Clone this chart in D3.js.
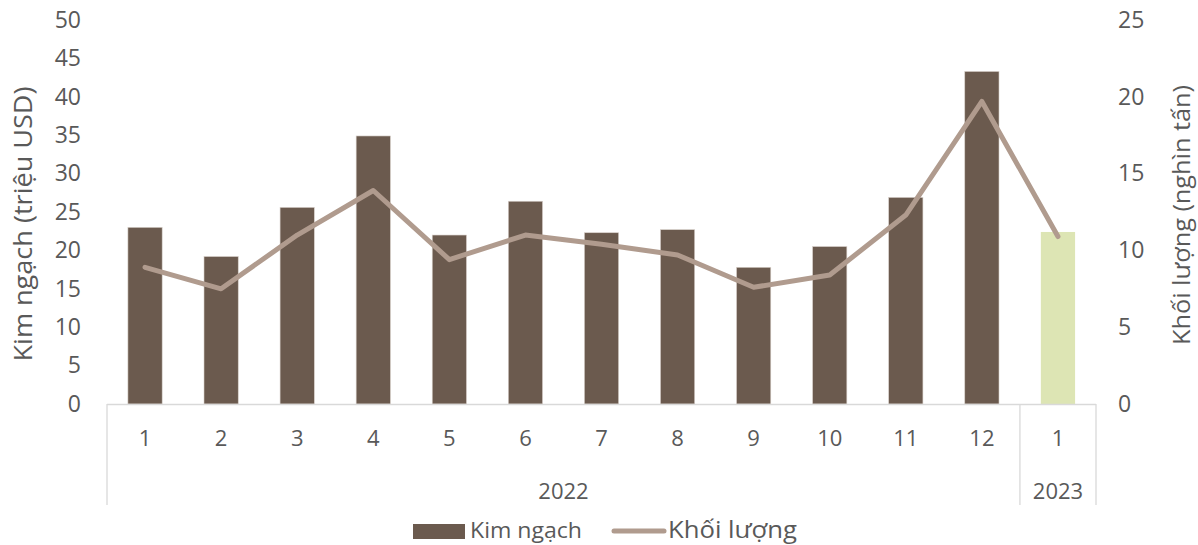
<!DOCTYPE html>
<html><head><meta charset="utf-8">
<script src="https://cdn.jsdelivr.net/npm/d3@7"></script>
<style>body{margin:0;background:#fff}svg{display:block}text{font-family:"Open Sans",sans-serif;fill:#595959}</style>
</head><body><svg id="c" width="1198" height="545"></svg>
<script>
const months = ["1","2","3","4","5","6","7","8","9","10","11","12","1"];
const years = [{label:"2022", from:0, to:12},{label:"2023", from:12, to:13}];
const kimNgach = [23.0,19.2,25.6,34.9,22.0,26.4,22.3,22.7,17.8,20.5,26.9,43.3,22.4];
const khoiLuong = [8.9,7.5,11.0,13.9,9.4,11.0,10.4,9.7,7.6,8.4,12.3,19.7,10.9];
const leftTicks = [0,5,10,15,20,25,30,35,40,45,50];
const rightTicks = [0,5,10,15,20,25];

const svg = d3.select("#c");
const L=107, R=1096, T=20, B=404;
const x = d3.scaleBand().domain(d3.range(months.length)).range([L,R]).paddingInner(0.55).paddingOuter(0.275);
const xs = d3.scaleLinear().domain([0,months.length]).range([L,R]);
const yL = d3.scaleLinear().domain([0,50]).range([B,T]);
const yR = d3.scaleLinear().domain([0,25]).range([B,T]);

// bars
svg.selectAll("rect.bar").data(kimNgach).join("rect")
  .attr("x",(d,i)=>x(i)).attr("width",x.bandwidth())
  .attr("y",d=>yL(d)).attr("height",d=>B-yL(d))
  .attr("fill",(d,i)=>i===12?"#dde5b4":"#6b5a4e")
  .attr("stroke",(d,i)=>i===12?"none":"#d8d0ca").attr("stroke-width",0.6);

// line
const line = d3.line().x((d,i)=>x(i)+x.bandwidth()/2).y(d=>yR(d));
svg.append("path").datum(khoiLuong).attr("d",line).attr("fill","none")
  .attr("stroke","#b09b8e").attr("stroke-width",5).attr("stroke-linejoin","round").attr("stroke-linecap","round");

// category axis
const g = svg.append("g").attr("stroke","#d9d9d9").attr("stroke-width",1.3);
g.append("line").attr("x1",L).attr("x2",R).attr("y1",B+0.5).attr("y2",B+0.5);
[0,12,13].forEach(k=>g.append("line").attr("x1",xs(k)).attr("x2",xs(k)).attr("y1",B).attr("y2",505));

svg.selectAll("text.m").data(months).join("text").attr("class","m")
  .attr("x",(d,i)=>x(i)+x.bandwidth()/2).attr("y",446).attr("text-anchor","middle")
  .attr("font-size",22).text(d=>d);
svg.selectAll("text.yr").data(years).join("text").attr("class","yr")
  .attr("x",d=>(xs(d.from)+xs(d.to))/2).attr("y",499).attr("text-anchor","middle")
  .attr("font-size",22).text(d=>d.label);

// left axis
const la = svg.append("g").attr("transform",`translate(${L},0)`)
  .call(d3.axisLeft(yL).tickValues(leftTicks).tickSize(0).tickPadding(26));
la.select(".domain").remove();
la.selectAll("text").attr("font-size",23).attr("fill","#595959").attr("font-family","Open Sans");
// right axis
const ra = svg.append("g").attr("transform",`translate(${R},0)`)
  .call(d3.axisRight(yR).tickValues(rightTicks).tickSize(0).tickPadding(22));
ra.select(".domain").remove();
ra.selectAll("text").attr("font-size",23).attr("fill","#595959").attr("font-family","Open Sans");

// axis titles
svg.append("text").attr("transform","translate(32,224) rotate(-90)").attr("text-anchor","middle")
  .attr("font-size",25).attr("textLength",275).attr("lengthAdjust","spacingAndGlyphs").text("Kim ngạch (triệu USD)");
svg.append("text").attr("transform","translate(1190,215) rotate(-90)").attr("text-anchor","middle")
  .attr("font-size",24).attr("textLength",260).attr("lengthAdjust","spacingAndGlyphs").text("Khối lượng (nghìn tấn)");

// legend
svg.append("rect").attr("x",413).attr("y",524).attr("width",52).attr("height",15).attr("fill","#6b5a4e");
svg.append("text").attr("x",470).attr("y",538).attr("font-size",21).attr("textLength",112).attr("lengthAdjust","spacingAndGlyphs").text("Kim ngạch");
svg.append("line").attr("x1",614).attr("x2",664).attr("y1",531).attr("y2",531).attr("stroke","#b09b8e").attr("stroke-width",5).attr("stroke-linecap","round");
svg.append("text").attr("x",668).attr("y",538).attr("font-size",24).attr("textLength",129).attr("lengthAdjust","spacingAndGlyphs").text("Khối lượng");
</script></body></html>
